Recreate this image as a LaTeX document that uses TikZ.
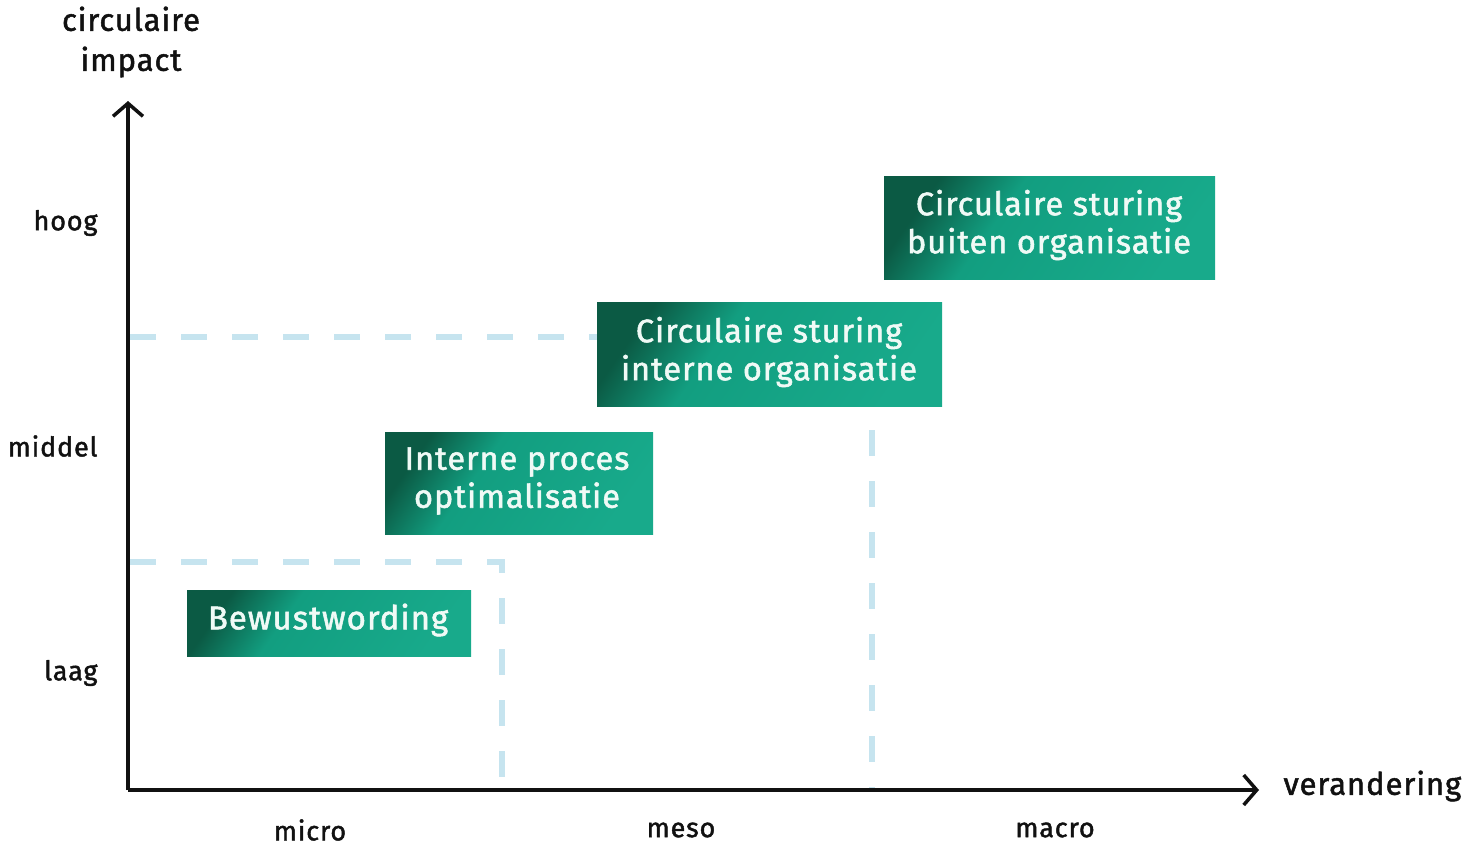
\documentclass[tikz,border=0pt]{standalone}
\usepackage{fontspec}
\setmainfont{Fira Sans}[LetterSpace=3, FakeBold=1.6]
\usetikzlibrary{arrows.meta}
\definecolor{gdark}{HTML}{0B5A44}
\definecolor{gmid}{HTML}{129E80}
\definecolor{glight}{HTML}{18AA8B}
\definecolor{dashblue}{HTML}{C6E4EF}
\definecolor{txtw}{HTML}{F0FAF6}
\definecolor{ink}{HTML}{111111}
\pgfdeclarehorizontalshading{boxshade}{100bp}{color(0bp)=(gdark); color(25bp)=(gdark); color(40bp)=(gmid); color(75bp)=(glight); color(100bp)=(glight)}
\tikzset{
  axis/.style={ink, line width=3.5pt, -{Straight Barb[length=13pt,width=30pt,line width=3.5pt]}},
  guide/.style={dashblue, line width=6pt, dash pattern=on 26pt off 25pt},
  stepbox/.style={shading=boxshade, shading angle=-35},
  boxtext/.style={text=txtw, align=center, font=\fontsize{32.5}{38}\selectfont},
  ylab/.style={ink, anchor=east, font=\fontsize{27}{30}\selectfont},
  xlab/.style={ink, anchor=center, font=\fontsize{27}{30}\selectfont},
}
\begin{document}
\begin{tikzpicture}[x=1pt,y=-1pt]
\useasboundingbox (0,0) rectangle (1478,847);
% guides
\draw[guide] (130,337) -- (597,337);
\draw[guide] (130,562) -- (502,562) -- (502,790);
\draw[guide] (872,430) -- (872,790);
% axes
\coordinate (o) at (128,790);
\coordinate (ytop) at (128,101);
\coordinate (xend) at (1259,790);
\draw[axis] (o) -- (ytop);
\draw[axis] (o) -- (xend);
% boxes
\path[stepbox] (187,590) rectangle (471,656);
\node[boxtext, font=\fontsize{33}{38}\selectfont] (b1) at (328,620) {Bewustwording};
\path[stepbox] (385,432) rectangle (653,534);
\node[boxtext] (b2) at (517,481) {Interne proces\\optimalisatie};
\path[stepbox] (597,302) rectangle (942,406);
\node[boxtext] (b3) at (769,352) {Circulaire sturing\\interne organisatie};
\path[stepbox] (884,176) rectangle (1215,279);
\node[boxtext] (b4) at (1049,225) {Circulaire sturing\\buiten organisatie};
% axis labels
\node[ink, align=center, font=\fontsize{31}{40}\selectfont] (yt) at (131,42) {circulaire\\impact};
\node[ink, anchor=west, font=\fontsize{31}{34}\selectfont] (xt) at (1280,786) {verandering};
\node[ylab] (hoog) at (101,223) {hoog};
\node[ylab] (middel) at (101,446) {middel};
\node[ylab] (laag) at (101,673) {laag};
\node[xlab] (micro) at (310,830) {micro};
\node[xlab] (meso) at (681,830) {meso};
\node[xlab] (macro) at (1055,830) {macro};
\end{tikzpicture}
\end{document}
